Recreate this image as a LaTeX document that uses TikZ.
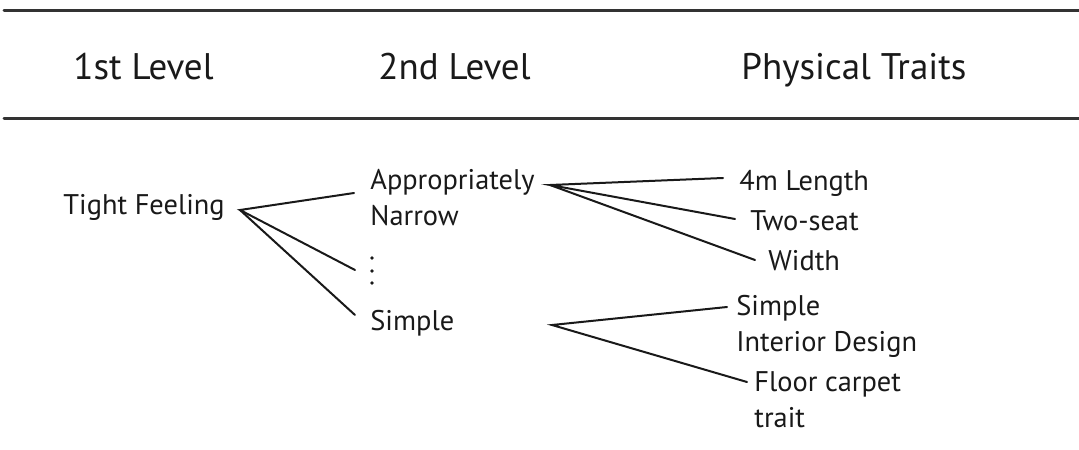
\documentclass[tikz,border=0pt]{standalone}
\usepackage{fontspec}
\setmainfont{PT Sans}
\begin{document}
\begin{tikzpicture}[x=0.5pt, y=-0.5pt, font=\fontsize{14.2}{18}\selectfont, line cap=round]
                \useasboundingbox (0,0) rectangle (1079,449);

                \tikzset{
                    rule/.style = {line width=1.5pt, black!80},
                    head/.style = {anchor=base west, inner sep=0pt, font=\fontsize{18.5}{22}\selectfont, black!90},
                    item/.style = {anchor=base west, inner sep=0pt, align=left, black!90},
                    link/.style = {line width=1pt, black!90},
                }

                \draw[rule] (4,11) -- (1079,11);
                \draw[rule] (4,118) -- (1079,118);

                \node[head] (h1) at (73,80) {1st Level};
                \node[head] (h2) at (378,80) {2nd Level};
                \node[head] (h3) at (741,80) {Physical Traits};

                \node[item] (tight) at (63,214) {Tight Feeling};
                \node[item] (narrow) at (370,225) {Appropriately\\Narrow};
                \node[item] (simple) at (370,330) {Simple};
                \node[item] (length) at (739,190) {4m Length};
                \node[item] (seat) at (750,230) {Two-seat};
                \node[item] (width) at (768,270) {Width};
                \node[item] (interior) at (736,351) {Simple\\Interior Design};
                \node[item] (carpet) at (754,427) {Floor carpet\\trait};

                \foreach \y in {258, 271, 283}{
                        \fill[black!90] (372,\y) circle (1.8);
                    }

                \coordinate (tight-r) at (240,210);
                \coordinate (narrow-l) at (354,193);
                \coordinate (dots-l) at (355,270);
                \coordinate (simple-l) at (355,315);
                \coordinate (narrow-r) at (550,185);
                \coordinate (length-l) at (723,178);
                \coordinate (seat-l) at (735,219);
                \coordinate (width-l) at (755,260);
                \coordinate (simple-r) at (552,325);
                \coordinate (interior-l) at (727,307);
                \coordinate (carpet-l) at (747,382);

                \draw[link] (narrow-l) -- (tight-r) -- (dots-l);
                \draw[link] (tight-r) -- (simple-l);
                \draw[link] (length-l) -- (narrow-r) -- (seat-l);
                \draw[link] (narrow-r) -- (width-l);
                \draw[link] (interior-l) -- (simple-r) -- (carpet-l);

            \end{tikzpicture}
\end{document}
